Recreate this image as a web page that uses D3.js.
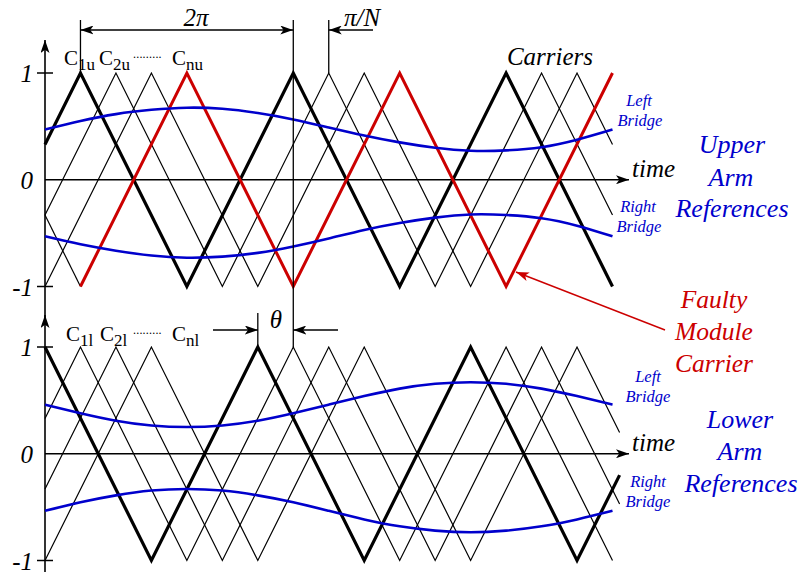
<!DOCTYPE html>
<html>
<head>
<meta charset="utf-8">
<script src="https://cdn.jsdelivr.net/npm/d3@7"></script>
<style>
  body { margin: 0; background: #fff; }
  text { font-family: "Liberation Serif", "Times New Roman", serif; }
</style>
</head>
<body>
<div id="chart"></div>
<script>
// time is measured in units of pi/N, one carrier period (2*pi) = 6 units
const timeDomain = [0, 16];
const valueTicks = [1, 0, -1];
const refTimes = [0, 1, 2, 3, 4, 5, 6, 7, 8, 9, 10, 11, 12, 13, 14, 15, 16];

// reference waveforms, one value per refTimes entry
const upperLeftRef  = [0.47, 0.55, 0.615, 0.655, 0.675, 0.665, 0.625, 0.565, 0.49, 0.415, 0.35, 0.30, 0.272, 0.275, 0.305, 0.375, 0.47];
const upperRightRef = [-0.53, -0.605, -0.665, -0.71, -0.73, -0.72, -0.685, -0.625, -0.55, -0.47, -0.405, -0.355, -0.325, -0.33, -0.36, -0.43, -0.53];
const lowerLeftRef  = [0.46, 0.38, 0.31, 0.265, 0.25, 0.265, 0.31, 0.38, 0.46, 0.54, 0.61, 0.655, 0.67, 0.655, 0.61, 0.54, 0.46];
const lowerRightRef = [-0.535, -0.455, -0.39, -0.345, -0.33, -0.345, -0.39, -0.455, -0.535, -0.615, -0.68, -0.72, -0.735, -0.72, -0.68, -0.615, -0.535];

// carrier vertices [time, value]
const upperThick  = [[0, 0.33], [1, 1], [4, -1], [7, 1], [10, -1], [13, 1], [16, -1]];
const upperThin2  = [[0, -0.33], [2, 1], [5, -1], [8, 1], [11, -1], [14, 1], [16, -0.33]];
const upperThin3  = [[0, -1], [3, 1], [6, -1], [9, 1], [12, -1], [15, 1], [16, 0.33]];
const upperFaultyLead = [[0, -0.33], [1, -1]];
const upperFaulty = [[1, -1], [4, 1], [7, -1], [10, 1], [13, -1], [16, 1]];

const lowerThick = [[0, 1], [3, -1], [6, 1], [9, -1], [12, 1], [15, -1], [16.2, -0.2]];
const lowerThin1 = [[0, 0.33], [1, 1], [4, -1], [7, 1], [10, -1], [13, 1], [16, -1]];
const lowerThin2 = [[0, -0.33], [2, 1], [5, -1], [8, 1], [11, -1], [14, 1], [16.2, -0.47]];
const lowerThin3 = [[0, -1], [3, 1], [6, -1], [9, 1], [12, -1], [15, 1], [16.2, 0.2]];

const upperLabels = [["C", "1u"], ["C", "2u"], ["C", "nu"]];
const lowerLabels = [["C", "1l"], ["C", "2l"], ["C", "nl"]];

const BLUE = "#0000cc", RED = "#cc0000";

const svg = d3.select("#chart").append("svg")
  .attr("width", 800).attr("height", 576);

const defs = svg.append("defs");
function addMarker(id, color, len, wid) {
  defs.append("marker")
    .attr("id", id)
    .attr("viewBox", "0 0 " + len + " " + wid)
    .attr("refX", len).attr("refY", wid / 2)
    .attr("markerWidth", len).attr("markerHeight", wid)
    .attr("markerUnits", "userSpaceOnUse")
    .attr("orient", "auto-start-reverse")
    .append("path")
      .attr("d", "M0,0 L" + len + "," + wid / 2 + " L0," + wid + " L" + len * 0.25 + "," + wid / 2 + " Z")
      .attr("fill", color);
}
addMarker("arrow", "#000", 13, 9);
addMarker("arrowRed", RED, 13, 9);

const x = d3.scaleLinear().domain(timeDomain).range([45, 612.5]);

class CarrierPanel {
  constructor(svg, yTop, yBottom, axisTop, axisBottom) {
    this.y = d3.scaleLinear().domain([-1, 1]).range([yBottom, yTop]);
    this.g = svg.append("g");
    this.axisTop = axisTop;
    this.axisBottom = axisBottom;
    this.line = d3.line().x(d => x(d[0])).y(d => this.y(d[1]));
    this.refLine = d3.line().x(d => x(d[0])).y(d => this.y(d[1])).curve(d3.curveNatural);
    this.drawAxes();
  }

  drawAxes() {
    const yAxis = d3.axisLeft(this.y).tickValues(valueTicks).tickSize(0).tickPadding(12)
      .tickFormat(d => String(d));
    const ga = this.g.append("g").attr("transform", "translate(" + x(0) + ",0)").call(yAxis);
    ga.select(".domain").remove();
    ga.attr("font-family", null).attr("font-size", null);
    ga.selectAll("text")
      .attr("dy", "0.34em")
      .style("font-size", "25px")
      .style("font-family", "'Liberation Serif', serif")
      .style("font-style", "italic")
      .attr("fill", "#000");

    this.g.selectAll(".tick-mark")
      .data([1, -1])
      .enter().append("line")
        .attr("x1", x(0) - 8).attr("x2", x(0) + 8)
        .attr("y1", d => this.y(d)).attr("y2", d => this.y(d))
        .attr("stroke", "#000").attr("stroke-width", 1.5);

    this.g.append("line")
      .attr("x1", x(0)).attr("x2", x(0))
      .attr("y1", this.axisBottom).attr("y2", this.axisTop)
      .attr("stroke", "#000").attr("stroke-width", 1.6)
      .attr("marker-end", "url(#arrow)");

    this.g.append("line")
      .attr("x1", x(0)).attr("x2", 629)
      .attr("y1", this.y(0)).attr("y2", this.y(0))
      .attr("stroke", "#000").attr("stroke-width", 1.4)
      .attr("marker-end", "url(#arrow)");

    this.g.append("text")
      .attr("x", 632).attr("y", this.y(0) - 3)
      .style("font-size", "25px").style("font-style", "italic")
      .text("time");
  }

  carrier(data, color, width) {
    this.g.append("path")
      .datum(data)
      .attr("d", this.line)
      .attr("fill", "none")
      .attr("stroke", color)
      .attr("stroke-width", width)
      .attr("stroke-linejoin", "miter");
  }

  reference(values) {
    this.g.append("path")
      .datum(refTimes.map((t, i) => [t, values[i]]))
      .attr("d", this.refLine)
      .attr("fill", "none")
      .attr("stroke", BLUE)
      .attr("stroke-width", 2.6);
  }

  carrierLabels(labels, xs, baseline) {
    labels.forEach((l, i) => {
      const t = this.g.append("text")
        .attr("x", xs[i]).attr("y", baseline)
        .style("font-size", "21px");
      t.append("tspan").text(l[0]);
      t.append("tspan").style("font-size", "17px").attr("dy", 5).text(l[1]);
    });
    this.g.append("text")
      .attr("x", 133).attr("y", baseline - 7)
      .style("font-size", "12px")
      .attr("letter-spacing", 0.2)
      .text(".........");
  }
}

const upper = new CarrierPanel(svg, 73, 286.5, 40, 318);
const lower = new CarrierPanel(svg, 347, 560.5, 315, 572);

// upper arm
upper.carrier(upperThin2, "#000", 1.2);
upper.carrier(upperThin3, "#000", 1.2);
upper.carrier(upperFaultyLead, "#000", 1.2);
upper.carrier(upperThick, "#000", 3.2);
upper.carrier(upperFaulty, RED, 3);
upper.reference(upperLeftRef);
upper.reference(upperRightRef);
upper.carrierLabels(upperLabels, [64, 99, 172], 65);

// lower arm
lower.carrier(lowerThin1, "#000", 1.2);
lower.carrier(lowerThin2, "#000", 1.2);
lower.carrier(lowerThin3, "#000", 1.2);
lower.carrier(lowerThick, "#000", 3.2);
lower.reference(lowerLeftRef);
lower.reference(lowerRightRef);
lower.carrierLabels(lowerLabels, [66, 100, 172], 341);

// dimension lines
const ann = svg.append("g").attr("stroke", "#000").attr("stroke-width", 1.3);
ann.append("line").attr("x1", x(1)).attr("x2", x(1)).attr("y1", 20).attr("y2", upper.y(1));
ann.append("line").attr("x1", x(7)).attr("x2", x(7)).attr("y1", 20).attr("y2", lower.y(1));
ann.append("line").attr("x1", x(8)).attr("x2", x(8)).attr("y1", 20).attr("y2", upper.y(1));
ann.append("line").attr("x1", x(6)).attr("x2", x(6)).attr("y1", 313).attr("y2", lower.y(1));

ann.append("line").attr("x1", x(1)).attr("x2", x(7)).attr("y1", 30).attr("y2", 30)
  .attr("marker-start", "url(#arrow)").attr("marker-end", "url(#arrow)");
ann.append("line").attr("x1", 373).attr("x2", x(8)).attr("y1", 30).attr("y2", 30)
  .attr("marker-end", "url(#arrow)");
ann.append("line").attr("x1", 213).attr("x2", x(6)).attr("y1", 330).attr("y2", 330)
  .attr("marker-end", "url(#arrow)");
ann.append("line").attr("x1", 338).attr("x2", x(7)).attr("y1", 330).attr("y2", 330)
  .attr("marker-end", "url(#arrow)");

function label(txt, px, py, size, color, anchor) {
  return svg.append("text")
    .attr("x", px).attr("y", py)
    .style("font-size", size + "px")
    .style("font-style", "italic")
    .attr("fill", color || "#000")
    .attr("text-anchor", anchor || "middle")
    .text(txt);
}

label("2\u03c0", 196, 26, 25);
label("\u03c0/N", 344, 26, 25, "#000", "start");
label("\u03b8", 276, 328, 25);
label("Carriers", 550, 65, 25);

// reference labels
label("Left", 639, 106, 16.5, BLUE);
label("Bridge", 640, 126, 16.5, BLUE);
label("Right", 638, 212, 16.5, BLUE);
label("Bridge", 639, 232, 16.5, BLUE);
label("Left", 648, 382, 16.5, BLUE);
label("Bridge", 648, 402, 16.5, BLUE);
label("Right", 648, 487, 16.5, BLUE);
label("Bridge", 648, 507, 16.5, BLUE);

label("Upper", 732, 153, 26, BLUE);
label("Arm", 731, 186, 26, BLUE);
label("References", 732, 217, 26, BLUE);
label("Lower", 740, 428, 26, BLUE);
label("Arm", 740, 460, 26, BLUE);
label("References", 741, 492, 26, BLUE);

label("Faulty", 714, 308, 25.5, RED);
label("Module", 714, 340, 25.5, RED);
label("Carrier", 714, 372, 25.5, RED);

svg.append("line")
  .attr("x1", 665).attr("y1", 330).attr("x2", 516).attr("y2", 272)
  .attr("stroke", RED).attr("stroke-width", 1.4)
  .attr("marker-end", "url(#arrowRed)");
</script>
</body>
</html>
